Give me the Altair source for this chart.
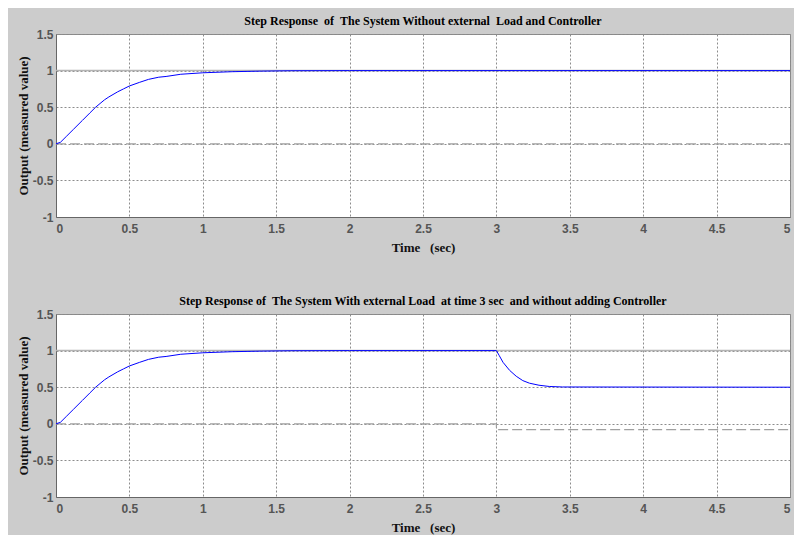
import altair as alt
import pandas as pd

NB = "\u00a0"

# Setpoint (reference input) and load disturbance signals
t_set = [0, 5]
y_set = [1, 1]

t_load_top = [0, 5]
y_load_top = [0, 0]

t_load_bot = [0, 3, 3, 5]
y_load_bot = [0, 0, -0.08, -0.08]

# Measured output, panel 1 (no load)
t_out_top = [0, 0.03, 0.07, 0.12, 0.18, 0.23, 0.27, 0.3, 0.33, 0.36, 0.42, 0.46, 0.5,
             0.57, 0.63, 0.7, 0.75, 0.85, 1.0, 1.2, 1.4, 1.6, 2.0, 5.0]
y_out_top = [0, 0.02, 0.1, 0.2, 0.32, 0.42, 0.5, 0.55, 0.6, 0.64, 0.71, 0.75, 0.79,
             0.84, 0.88, 0.91, 0.92, 0.95, 0.97, 0.985, 0.993, 0.998, 1.0, 1.0]

# Measured output, panel 2 (load at t = 3 s)
t_out_bot = [0, 0.03, 0.07, 0.12, 0.18, 0.23, 0.27, 0.3, 0.33, 0.36, 0.42, 0.46, 0.5,
             0.57, 0.63, 0.7, 0.75, 0.85, 1.0, 1.2, 1.4, 1.6, 2.0, 3.0,
             3.02, 3.045, 3.09, 3.135, 3.18, 3.225, 3.29, 3.36, 3.45, 5.0]
y_out_bot = [0, 0.02, 0.1, 0.2, 0.32, 0.42, 0.5, 0.55, 0.6, 0.64, 0.71, 0.75, 0.79,
             0.84, 0.88, 0.91, 0.92, 0.95, 0.97, 0.985, 0.993, 0.998, 1.0, 1.0,
             0.93, 0.84, 0.73, 0.65, 0.59, 0.555, 0.527, 0.51, 0.503, 0.5]

x_ticks = [0, 0.5, 1, 1.5, 2, 2.5, 3, 3.5, 4, 4.5, 5]
y_ticks = [-1, -0.5, 0, 0.5, 1, 1.5]

title_top = f"Step Response {NB}of {NB}The System Without external {NB}Load and Controller"
title_bot = (f"Step Response of {NB}The System With external Load {NB}at time 3 sec "
             f"{NB}and without adding Controller")
x_title = f"Time {NB}{NB}(sec)"
y_title = "Output (measured value)"

W, H = 734, 183


def frame(t, y):
    return pd.DataFrame({"t": t, "y": y, "i": list(range(len(t)))})


def panel(title, t_load, y_load, t_out, y_out):
    xenc = alt.X("t:Q", scale=alt.Scale(domain=[0, 5], nice=False),
                 axis=alt.Axis(values=x_ticks, labelExpr="datum.value + ''", title=x_title))
    yenc = alt.Y("y:Q", scale=alt.Scale(domain=[-1, 1.5], nice=False),
                 axis=alt.Axis(values=y_ticks, labelExpr="datum.value + ''", title=y_title))
    sp = alt.Chart(frame(t_set, y_set)).mark_line(color="#b4b4b4", strokeWidth=1.5).encode(
        x=xenc, y=yenc, order="i:Q")
    ld = alt.Chart(frame(t_load, y_load)).mark_line(
        color="#a0a0a0", strokeWidth=1.2, strokeDash=[10, 4]).encode(x=xenc, y=yenc, order="i:Q")
    out = alt.Chart(frame(t_out, y_out)).mark_line(color="#0000ff", strokeWidth=1).encode(
        x=xenc, y=yenc, order="i:Q")
    return alt.layer(sp, ld, out).properties(
        width=W, height=H,
        title=alt.TitleParams(title, anchor="middle", offset=0))


top = panel(title_top, t_load_top, y_load_top, t_out_top, y_out_top)
bot = panel(title_bot, t_load_bot, y_load_bot, t_out_bot, y_out_bot)

chart = alt.vconcat(top, bot, spacing=39).properties(
    background="#cccccc",
    padding={"left": 8, "top": 6, "right": 0, "bottom": 0},
).configure_view(
    stroke="#888888", fill="white"
).configure_axis(
    grid=True, gridColor="#8c8c8c", gridDash=[2, 2], gridOpacity=1, gridWidth=1,
    domainColor="#666666", domainWidth=1, ticks=False,
    labelFont="Liberation Sans", labelFontWeight="bold", labelFontSize=12,
    labelColor="#555555", labelPadding=3,
    titleFont="Liberation Serif", titleFontWeight="bold", titleFontSize=13,
    titleColor="#111111",
).configure_axisX(
    labelPadding=6, titlePadding=7
).configure_axisY(
    titlePadding=2
).configure_title(
    font="Liberation Serif", fontWeight="bold", fontSize=12, color="#000000"
)

chart.save("out.html", embed_options={"renderer": "svg", "actions": False})
